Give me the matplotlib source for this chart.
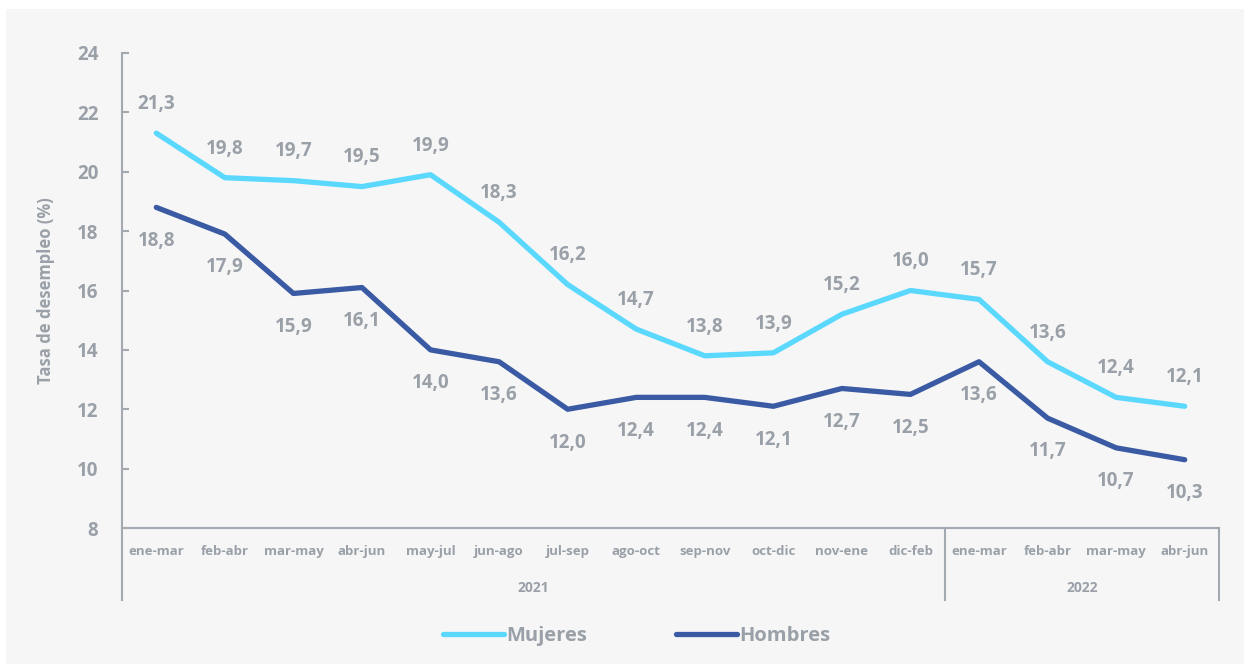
import matplotlib.pyplot as plt
from matplotlib.patches import Rectangle
from matplotlib.lines import Line2D

# Data
periodos = ['ene-mar', 'feb-abr', 'mar-may', 'abr-jun', 'may-jul', 'jun-ago', 'jul-sep',
            'ago-oct', 'sep-nov', 'oct-dic', 'nov-ene', 'dic-feb',
            'ene-mar', 'feb-abr', 'mar-may', 'abr-jun']
anios = ['2021', '2022']
n_2021 = 12
mujeres = [21.3, 19.8, 19.7, 19.5, 19.9, 18.3, 16.2, 14.7, 13.8, 13.9, 15.2, 16.0,
           15.7, 13.6, 12.4, 12.1]
hombres = [18.8, 17.9, 15.9, 16.1, 14.0, 13.6, 12.0, 12.4, 12.4, 12.1, 12.7, 12.5,
           13.6, 11.7, 10.7, 10.3]

gris = '#9aa0a8'
eje = '#a3a9b0'
c_muj = '#5ad8fe'
c_hom = '#3a5aa3'

plt.rcParams['font.family'] = ['Open Sans', 'DejaVu Sans']
plt.rcParams['font.weight'] = 'bold'

fig = plt.figure(figsize=(12.44, 6.64), dpi=100, facecolor='white')
fig.patches.append(Rectangle((6 / 1244, 0), 1, 1 - 9 / 664, transform=fig.transFigure,
                             facecolor='#f6f6f6', edgecolor='none', zorder=-10))
ax = fig.add_axes([122 / 1244, 1 - 528 / 664, (1219 - 122) / 1244, (528 - 53) / 664])
ax.set_facecolor('none')

x = list(range(len(periodos)))
ax.plot(x, mujeres, color=c_muj, lw=3.8, solid_capstyle='round', solid_joinstyle='round')
ax.plot(x, hombres, color=c_hom, lw=3.8, solid_capstyle='round', solid_joinstyle='round')

for i, v in enumerate(mujeres):
    ax.annotate(f'{v:.1f}'.replace('.', ','), (i, v), xytext=(0, 21), textcoords='offset points',
                ha='center', va='center', fontsize=13.5, color=gris, fontweight='bold')
for i, v in enumerate(hombres):
    ax.annotate(f'{v:.1f}'.replace('.', ','), (i, v), xytext=(0, -24), textcoords='offset points',
                ha='center', va='center', fontsize=13.5, color=gris, fontweight='bold')

ax.set_xlim(-0.5, len(periodos) - 0.5)
ax.set_ylim(8, 24)
ax.set_yticks(range(8, 25, 2))
ax.tick_params(axis='y', direction='in', length=5, width=1.5, color=eje,
               labelsize=13.5, labelcolor=gris, pad=17)
ax.set_xticks(x)
ax.set_xticklabels(periodos)
ax.tick_params(axis='x', length=0, labelsize=9.5, labelcolor=gris, pad=12)
for spine in ['top', 'right']:
    ax.spines[spine].set_visible(False)
for spine in ['left', 'bottom']:
    ax.spines[spine].set_color(eje)
    ax.spines[spine].set_linewidth(1.5)

ax.set_ylabel('Tasa de desempleo (%)', fontsize=12, color=gris, fontweight='bold', labelpad=16)

# year grouping below the axis
for xs in [-0.5, n_2021 - 0.5, len(periodos) - 0.5]:
    ax.add_line(Line2D([xs, xs], [0, -0.152], transform=ax.get_xaxis_transform(),
                       color=eje, lw=1.5, clip_on=False))
ax.text((n_2021 - 1) / 2, -0.126, anios[0], transform=ax.get_xaxis_transform(),
        ha='center', va='center', fontsize=10, color=gris, fontweight='bold')
ax.text((n_2021 + len(periodos) - 1) / 2, -0.126, anios[1], transform=ax.get_xaxis_transform(),
        ha='center', va='center', fontsize=10, color=gris, fontweight='bold')

handles = [Line2D([], [], color=c_muj, lw=3.8, solid_capstyle='round'),
           Line2D([], [], color=c_hom, lw=3.8, solid_capstyle='round')]
leg = fig.legend(handles, ['Mujeres', 'Hombres'], loc='center', bbox_to_anchor=(0.512, 1 - 636 / 664),
                 ncol=2, frameon=False, handlelength=3.0, handletextpad=0.15,
                 columnspacing=4.4, prop={'size': 14.5, 'weight': 'bold'})
for t in leg.get_texts():
    t.set_color(gris)

fig.savefig('out.png', dpi=100, facecolor=fig.get_facecolor())
